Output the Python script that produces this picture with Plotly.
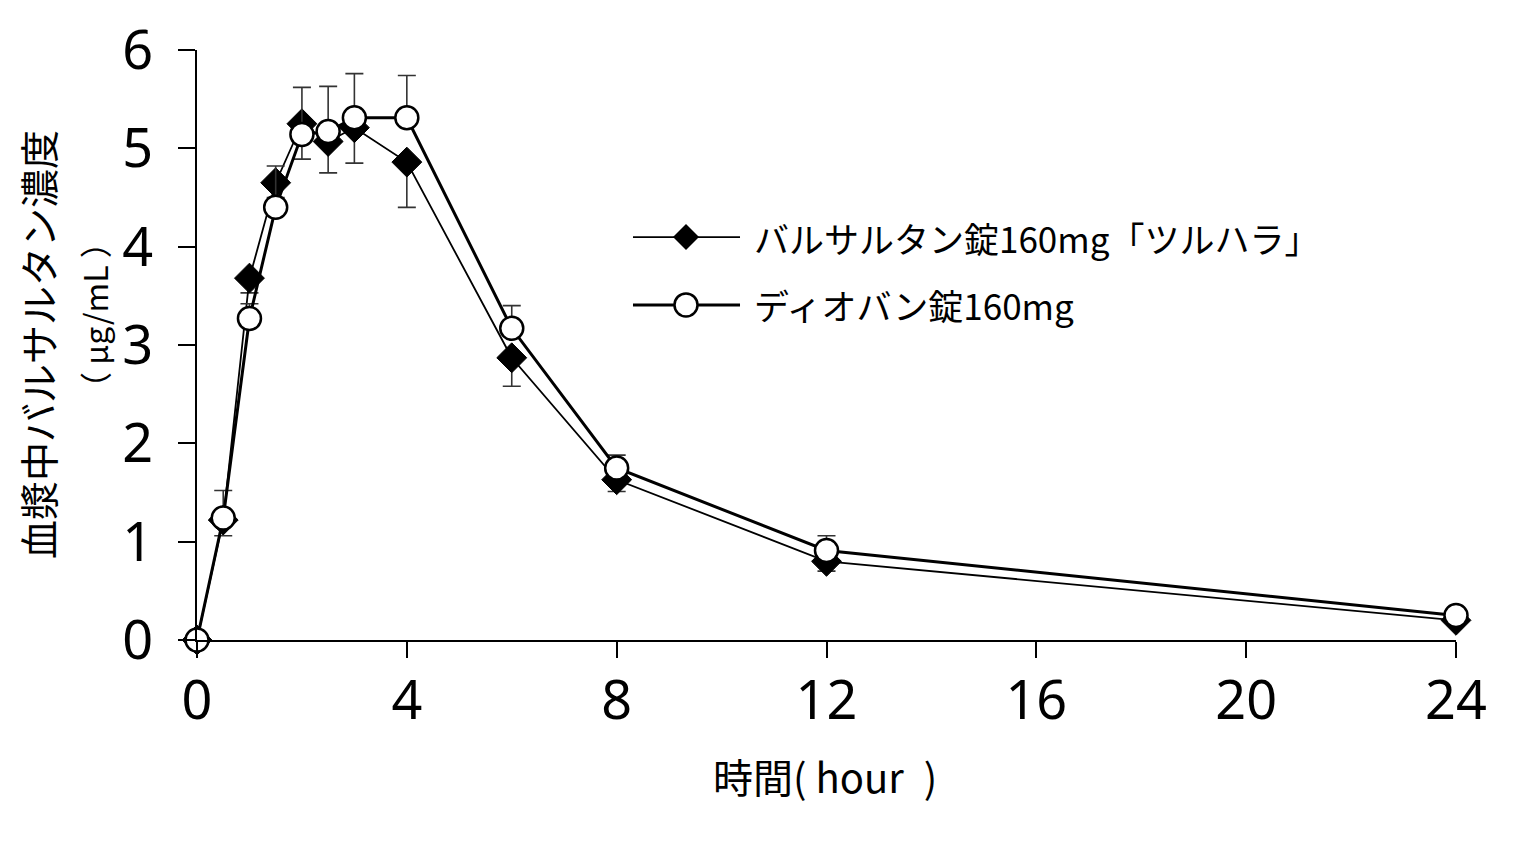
import plotly.graph_objects as go

# ---- data ----
time_h = [0, 0.5, 1, 1.5, 2, 2.5, 3, 4, 6, 8, 12, 24]
tsuruhara_mean = [0, 1.22, 3.68, 4.65, 5.25, 5.07, 5.21, 4.86, 2.87, 1.63, 0.80, 0.20]
tsuruhara_sd = [0, 0.16, 0.15, 0.15, 0.36, 0.32, 0.36, 0.46, 0.29, 0.12, 0.10, 0.05]
diovan_mean = [0, 1.24, 3.27, 4.40, 5.14, 5.17, 5.31, 5.31, 3.17, 1.75, 0.91, 0.25]
diovan_sd = [0, 0.28, 0.15, 0.42, 0.48, 0.46, 0.45, 0.43, 0.23, 0.13, 0.15, 0.05]
zeros = [0] * len(time_h)

x_ticks = [0, 4, 8, 12, 16, 20, 24]
y_ticks = [0, 1, 2, 3, 4, 5, 6]
name_a = "バルサルタン錠160mg「ツルハラ」"
name_b = "ディオバン錠160mg"
x_title = "時間( hour\u2002)"
y_title1 = "血漿中バルサルタン濃度"
y_title2 = "（ μg/mL ）"

JP = "Noto Sans CJK JP"
NUM = "Noto Sans, sans-serif"

fig = go.Figure()

fig.add_trace(go.Scatter(
    x=time_h, y=tsuruhara_mean, mode="lines+markers", name=name_a,
    line=dict(color="black", width=1.8),
    marker=dict(symbol="diamond", size=23, color="black", line=dict(color="black", width=1)),
    error_y=dict(type="data", symmetric=False, array=zeros, arrayminus=tsuruhara_sd,
                 color="#333333", thickness=1.6, width=9),
    cliponaxis=False, showlegend=False,
))
fig.add_trace(go.Scatter(
    x=time_h, y=diovan_mean, mode="lines+markers", name=name_b,
    line=dict(color="black", width=3),
    marker=dict(symbol="circle", size=23, color="white", line=dict(color="black", width=2.5)),
    error_y=dict(type="data", symmetric=False, array=diovan_sd, arrayminus=zeros,
                 color="#333333", thickness=1.6, width=9),
    cliponaxis=False, showlegend=False,
))

# ---- custom legend (overlay axes in plot-fraction units) ----
leg_x0, leg_x1, leg_xm, leg_tx = 0.3463, 0.4313, 0.3884, 0.4408
leg_rows = [0.683, 0.568]
fig.add_trace(go.Scatter(
    x=[leg_x0, leg_x1], y=[leg_rows[0]] * 2, mode="lines", xaxis="x2", yaxis="y2",
    line=dict(color="black", width=1.8), showlegend=False, hoverinfo="skip"))
fig.add_trace(go.Scatter(
    x=[leg_xm], y=[leg_rows[0]], mode="markers", xaxis="x2", yaxis="y2",
    marker=dict(symbol="diamond", size=20, color="black"), showlegend=False, hoverinfo="skip"))
fig.add_trace(go.Scatter(
    x=[leg_x0, leg_x1], y=[leg_rows[1]] * 2, mode="lines", xaxis="x2", yaxis="y2",
    line=dict(color="black", width=3), showlegend=False, hoverinfo="skip"))
fig.add_trace(go.Scatter(
    x=[leg_xm], y=[leg_rows[1]], mode="markers", xaxis="x2", yaxis="y2",
    marker=dict(symbol="circle", size=23, color="white", line=dict(color="black", width=2.5)),
    showlegend=False, hoverinfo="skip"))

for name, ry in zip([name_a, name_b], leg_rows):
    fig.add_annotation(x=leg_tx, y=ry, xref="paper", yref="paper", text=name,
                       showarrow=False, xanchor="left", yanchor="middle",
                       font=dict(family=JP, size=35, color="black"))

# page offset (browser body margin)
OFF = 8
W, H = 1516, 838
L, T = 197 - OFF, 50 - OFF
PW, PH = 1259, 590
R = W - L - PW
B = H - T - PH


def px_to_paper(px, py):
    # px, py are screenshot pixel coordinates
    return (px - OFF - L) / PW, (T + PH - (py - OFF)) / PH


# titles as annotations positioned in screenshot pixel coordinates
for text, px, py, size, ang in [
    (y_title1, 37, 345, 39, -90),
    (y_title2, 94, 315, 32, -90),
    (x_title, 825, 776, 40, 0),
]:
    ax_, ay_ = px_to_paper(px, py)
    fig.add_annotation(x=ax_, y=ay_, xref="paper", yref="paper", text=text,
                       showarrow=False, textangle=ang, xanchor="center", yanchor="middle",
                       font=dict(family=JP, size=size, color="black"))

fig.update_layout(
    width=W, height=H,
    margin=dict(l=L, r=R, t=T, b=B, pad=0, autoexpand=False),
    plot_bgcolor="white", paper_bgcolor="white",
    showlegend=False,
    xaxis=dict(range=[0, 24], tickvals=x_ticks, ticktext=[str(v) for v in x_ticks],
               showgrid=False, zeroline=False, showline=True, linecolor="black", linewidth=2,
               ticks="outside", ticklen=16, tickwidth=2, tickcolor="black", automargin=False,
               tickfont=dict(family=NUM, size=54, color="black"), ticklabelstandoff=-4),
    yaxis=dict(range=[0, 6], tickvals=y_ticks, ticktext=[str(v) for v in y_ticks],
               showgrid=False, zeroline=False, showline=True, linecolor="black", linewidth=2,
               ticks="outside", ticklen=17, tickwidth=2, tickcolor="black", automargin=False,
               tickfont=dict(family=NUM, size=54, color="black"), ticklabelstandoff=14),
    xaxis2=dict(range=[0, 1], overlaying="x", visible=False, fixedrange=True),
    yaxis2=dict(range=[0, 1], overlaying="y", visible=False, fixedrange=True),
)

fig.write_html("out.html")
